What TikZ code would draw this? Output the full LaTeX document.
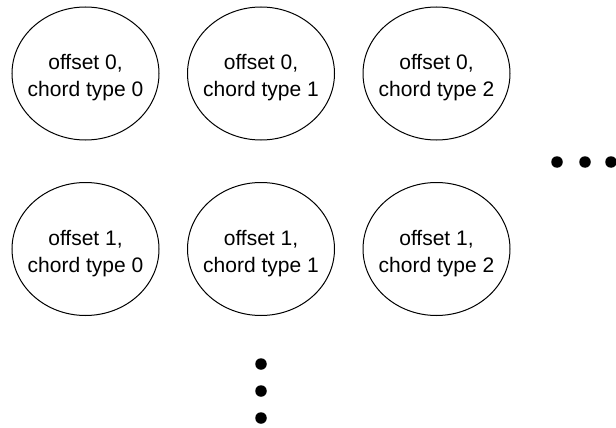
\documentclass[tikz,border=0pt]{standalone}
\usepackage{fontspec}
\setmainfont{Liberation Sans}
\usetikzlibrary{shapes.geometric}
\begin{document}
\begin{tikzpicture}[x=1pt,y=-1pt,
  state/.style={draw=black, line width=1pt, ellipse, minimum width=147pt,
    minimum height=133pt, inner sep=0pt},
  statetext/.style={align=center, inner sep=0pt,
    font=\fontsize{21}{27}\selectfont},
  dot/.style={circle, fill=black, inner sep=0pt, minimum size=11.5pt}]
\useasboundingbox (0,0) rectangle (616,428);
% state circles: row = offset, column = chord type
\foreach \r/\y in {0/73.5, 1/249}{
  \foreach \c/\x in {0/85.5, 1/261, 2/436.5}{
    \node[state] (s\r\c) at (\x,\y) {};
    \node[statetext] (t\r\c) at ([yshift=-4.5pt]s\r\c.center)
      {offset \r,\\chord type \c};
  }
}
% horizontal ellipsis
\node[dot] (h1) at (557,162) {};
\node[dot] (h2) at (585,162) {};
\node[dot] (h3) at (611,162) {};
% vertical ellipsis
\node[dot] (v1) at (261,364) {};
\node[dot] (v2) at (261,391) {};
\node[dot] (v3) at (261,418) {};
\end{tikzpicture}
\end{document}
